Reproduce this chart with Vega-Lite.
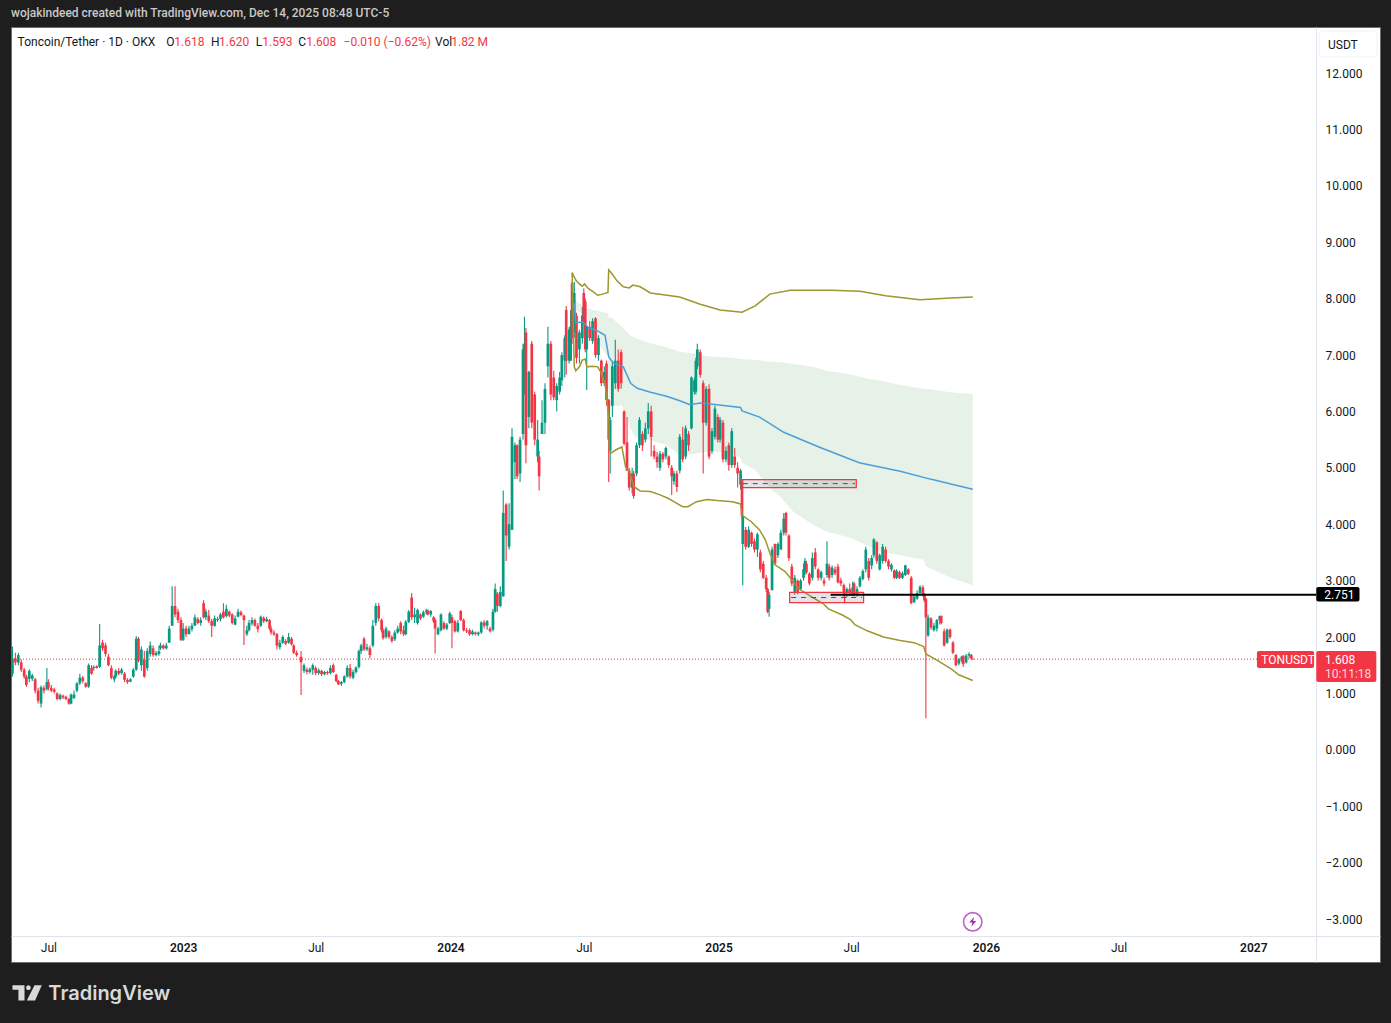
{
"$schema":"https://vega.github.io/schema/vega-lite/v6.json",
"autosize":"none","width":1369,"height":935,
"padding":{"left":11,"top":27,"right":11,"bottom":61},
"background":"#1e1e1e",
"title":{"text":"wojakindeed created with TradingView.com, Dec 14, 2025 08:48 UTC-5","anchor":"start","frame":"group","color":"#c9c9c9","font":"Roboto","fontSize":12,"fontWeight":500,"offset":7},
"config":{"view":{"fill":"#ffffff","stroke":"#6e6e6e"},"text":{"font":"Roboto"}},
"resolve":{"scale":{"color":"independent"}},
"datasets":{
"candles":[
{"t":"2022-05-13","o":1.35,"c":1.62,"h":1.83,"l":1.3},{"t":"2022-05-17","o":1.62,"c":1.55,"h":1.72,"l":1.5},{"t":"2022-05-21","o":1.55,"c":1.68,"h":1.72,"l":1.5},{"t":"2022-05-25","o":1.55,"c":1.42,"h":1.6,"l":1.38},{"t":"2022-05-29","o":1.42,"c":1.3,"h":1.45,"l":1.26},
{"t":"2022-06-01","o":1.3,"c":1.15,"h":1.33,"l":1.12},{"t":"2022-06-05","o":1.26,"c":1.4,"h":1.43,"l":1.2},{"t":"2022-06-09","o":1.26,"c":1.32,"h":1.35,"l":1.22},{"t":"2022-06-13","o":1.25,"c":1.05,"h":1.28,"l":1.0},{"t":"2022-06-17","o":1.05,"c":0.87,"h":1.1,"l":0.82},{"t":"2022-06-21","o":0.82,"c":1.11,"h":1.14,"l":0.75},{"t":"2022-06-25","o":1.1,"c":1.05,"h":1.14,"l":1.0},{"t":"2022-06-29","o":1.08,"c":1.2,"h":1.45,"l":1.05},
{"t":"2022-07-01","o":1.2,"c":1.1,"h":1.25,"l":1.05},{"t":"2022-07-05","o":1.1,"c":1.05,"h":1.15,"l":1.02},{"t":"2022-07-09","o":1.07,"c":1.03,"h":1.1,"l":1.0},{"t":"2022-07-13","o":1.0,"c":0.9,"h":1.02,"l":0.88},{"t":"2022-07-17","o":0.9,"c":0.97,"h":1.0,"l":0.88},{"t":"2022-07-21","o":0.96,"c":0.93,"h":0.98,"l":0.9},{"t":"2022-07-25","o":0.94,"c":0.9,"h":0.96,"l":0.88},{"t":"2022-07-29","o":0.9,"c":0.82,"h":0.92,"l":0.8},
{"t":"2022-08-01","o":0.82,"c":0.98,"h":1.0,"l":0.81},{"t":"2022-08-05","o":0.92,"c":0.98,"h":1.05,"l":0.9},{"t":"2022-08-09","o":1.05,"c":1.18,"h":1.2,"l":1.02},{"t":"2022-08-13","o":1.18,"c":1.28,"h":1.35,"l":1.15},{"t":"2022-08-17","o":1.28,"c":1.22,"h":1.31,"l":1.18},{"t":"2022-08-21","o":1.18,"c":1.12,"h":1.2,"l":1.1},{"t":"2022-08-25","o":1.12,"c":1.5,"h":1.53,"l":1.1},{"t":"2022-08-29","o":1.45,"c":1.35,"h":1.5,"l":1.33},
{"t":"2022-09-01","o":1.45,"c":1.47,"h":1.5,"l":1.4},{"t":"2022-09-05","o":1.48,"c":1.45,"h":1.5,"l":1.44},{"t":"2022-09-09","o":1.47,"c":1.85,"h":2.23,"l":1.45},{"t":"2022-09-13","o":1.9,"c":1.8,"h":1.95,"l":1.75},{"t":"2022-09-17","o":1.85,"c":1.7,"h":1.9,"l":1.65},{"t":"2022-09-21","o":1.65,"c":1.5,"h":1.7,"l":1.48},{"t":"2022-09-25","o":1.45,"c":1.28,"h":1.5,"l":1.25},{"t":"2022-09-29","o":1.25,"c":1.3,"h":1.33,"l":1.2},
{"t":"2022-10-01","o":1.3,"c":1.4,"h":1.43,"l":1.27},{"t":"2022-10-05","o":1.4,"c":1.35,"h":1.45,"l":1.32},{"t":"2022-10-09","o":1.36,"c":1.42,"h":1.45,"l":1.33},{"t":"2022-10-13","o":1.35,"c":1.24,"h":1.38,"l":1.2},{"t":"2022-10-17","o":1.24,"c":1.2,"h":1.27,"l":1.17},{"t":"2022-10-21","o":1.21,"c":1.25,"h":1.27,"l":1.2},{"t":"2022-10-25","o":1.3,"c":1.42,"h":1.45,"l":1.28},{"t":"2022-10-29","o":1.42,"c":1.97,"h":2.02,"l":1.4},
{"t":"2022-11-01","o":1.97,"c":1.58,"h":2.0,"l":1.55},{"t":"2022-11-05","o":1.5,"c":1.78,"h":1.83,"l":1.4},{"t":"2022-11-09","o":1.6,"c":1.3,"h":1.75,"l":1.28},{"t":"2022-11-13","o":1.45,"c":1.75,"h":1.8,"l":1.4},{"t":"2022-11-17","o":1.7,"c":1.85,"h":1.92,"l":1.65},{"t":"2022-11-21","o":1.8,"c":1.68,"h":1.85,"l":1.65},{"t":"2022-11-25","o":1.68,"c":1.72,"h":1.75,"l":1.66},{"t":"2022-11-29","o":1.7,"c":1.75,"h":1.85,"l":1.67},
{"t":"2022-12-01","o":1.8,"c":1.85,"h":1.9,"l":1.77},{"t":"2022-12-05","o":1.85,"c":1.8,"h":1.87,"l":1.78},{"t":"2022-12-09","o":1.8,"c":1.85,"h":1.9,"l":1.78},{"t":"2022-12-13","o":1.9,"c":2.15,"h":2.2,"l":1.9},{"t":"2022-12-17","o":2.2,"c":2.55,"h":2.9,"l":2.2},{"t":"2022-12-21","o":2.55,"c":2.4,"h":2.9,"l":2.35},{"t":"2022-12-25","o":2.45,"c":2.3,"h":2.5,"l":2.25},{"t":"2022-12-29","o":2.3,"c":1.95,"h":2.35,"l":1.93},
{"t":"2023-01-01","o":1.95,"c":2.15,"h":2.25,"l":1.93},{"t":"2023-01-05","o":2.15,"c":2.05,"h":2.2,"l":2.0},{"t":"2023-01-09","o":2.05,"c":2.15,"h":2.2,"l":2.05},{"t":"2023-01-13","o":2.14,"c":2.2,"h":2.25,"l":2.1},{"t":"2023-01-17","o":2.2,"c":2.35,"h":2.4,"l":2.2},{"t":"2023-01-21","o":2.32,"c":2.25,"h":2.35,"l":2.22},{"t":"2023-01-25","o":2.25,"c":2.3,"h":2.35,"l":2.2},{"t":"2023-01-29","o":2.6,"c":2.35,"h":2.65,"l":2.33},
{"t":"2023-02-01","o":2.35,"c":2.45,"h":2.5,"l":2.3},{"t":"2023-02-05","o":2.38,"c":2.28,"h":2.48,"l":2.25},{"t":"2023-02-09","o":2.28,"c":2.2,"h":2.32,"l":2.0},{"t":"2023-02-13","o":2.2,"c":2.33,"h":2.38,"l":2.18},{"t":"2023-02-17","o":2.3,"c":2.32,"h":2.36,"l":2.27},{"t":"2023-02-21","o":2.32,"c":2.4,"h":2.43,"l":2.28},{"t":"2023-02-25","o":2.45,"c":2.35,"h":2.6,"l":2.33},
{"t":"2023-03-01","o":2.37,"c":2.5,"h":2.57,"l":2.35},{"t":"2023-03-05","o":2.45,"c":2.38,"h":2.47,"l":2.35},{"t":"2023-03-09","o":2.4,"c":2.25,"h":2.42,"l":2.22},{"t":"2023-03-13","o":2.22,"c":2.33,"h":2.38,"l":2.21},{"t":"2023-03-17","o":2.36,"c":2.45,"h":2.5,"l":2.35},{"t":"2023-03-21","o":2.44,"c":2.39,"h":2.47,"l":2.37},{"t":"2023-03-25","o":2.38,"c":2.3,"h":2.4,"l":1.86},{"t":"2023-03-29","o":2.05,"c":2.12,"h":2.2,"l":2.02},
{"t":"2023-04-01","o":2.12,"c":2.25,"h":2.3,"l":2.1},{"t":"2023-04-05","o":2.24,"c":2.3,"h":2.35,"l":2.2},{"t":"2023-04-09","o":2.3,"c":2.2,"h":2.33,"l":2.18},{"t":"2023-04-13","o":2.2,"c":2.14,"h":2.25,"l":2.08},{"t":"2023-04-17","o":2.2,"c":2.36,"h":2.38,"l":2.18},{"t":"2023-04-21","o":2.34,"c":2.28,"h":2.37,"l":2.25},{"t":"2023-04-25","o":2.28,"c":2.32,"h":2.36,"l":2.26},{"t":"2023-04-29","o":2.3,"c":2.15,"h":2.32,"l":2.13},
{"t":"2023-05-01","o":2.15,"c":2.08,"h":2.2,"l":2.04},{"t":"2023-05-05","o":2.08,"c":2.05,"h":2.12,"l":2.02},{"t":"2023-05-09","o":2.05,"c":1.85,"h":2.07,"l":1.78},{"t":"2023-05-13","o":1.82,"c":1.9,"h":1.95,"l":1.78},{"t":"2023-05-17","o":1.9,"c":2.0,"h":2.03,"l":1.88},{"t":"2023-05-21","o":1.93,"c":1.88,"h":1.96,"l":1.86},{"t":"2023-05-25","o":1.9,"c":2.0,"h":2.07,"l":1.88},{"t":"2023-05-29","o":1.97,"c":1.87,"h":2.0,"l":1.85},
{"t":"2023-06-01","o":1.85,"c":1.72,"h":1.87,"l":1.7},{"t":"2023-06-05","o":1.72,"c":1.68,"h":1.76,"l":1.65},{"t":"2023-06-11","o":1.65,"c":1.55,"h":1.75,"l":0.97},{"t":"2023-06-15","o":1.4,"c":1.5,"h":1.53,"l":1.36},{"t":"2023-06-19","o":1.42,"c":1.38,"h":1.46,"l":1.34},{"t":"2023-06-23","o":1.38,"c":1.43,"h":1.46,"l":1.35},{"t":"2023-06-27","o":1.42,"c":1.5,"h":1.53,"l":1.33},
{"t":"2023-07-01","o":1.45,"c":1.36,"h":1.48,"l":1.32},{"t":"2023-07-05","o":1.36,"c":1.41,"h":1.44,"l":1.33},{"t":"2023-07-09","o":1.4,"c":1.34,"h":1.42,"l":1.31},{"t":"2023-07-13","o":1.34,"c":1.38,"h":1.4,"l":1.32},{"t":"2023-07-17","o":1.38,"c":1.36,"h":1.4,"l":1.33},{"t":"2023-07-21","o":1.36,"c":1.45,"h":1.5,"l":1.34},{"t":"2023-07-25","o":1.5,"c":1.38,"h":1.53,"l":1.36},{"t":"2023-07-29","o":1.33,"c":1.22,"h":1.35,"l":1.2},
{"t":"2023-08-01","o":1.22,"c":1.16,"h":1.24,"l":1.15},{"t":"2023-08-05","o":1.17,"c":1.2,"h":1.22,"l":1.13},{"t":"2023-08-09","o":1.2,"c":1.3,"h":1.32,"l":1.18},{"t":"2023-08-13","o":1.3,"c":1.45,"h":1.5,"l":1.28},{"t":"2023-08-17","o":1.45,"c":1.3,"h":1.52,"l":1.26},{"t":"2023-08-21","o":1.28,"c":1.38,"h":1.42,"l":1.25},{"t":"2023-08-25","o":1.38,"c":1.46,"h":1.48,"l":1.35},{"t":"2023-08-29","o":1.47,"c":1.75,"h":1.78,"l":1.44},
{"t":"2023-09-01","o":1.75,"c":1.85,"h":1.88,"l":1.7},{"t":"2023-09-05","o":1.97,"c":1.78,"h":2.0,"l":1.75},{"t":"2023-09-09","o":1.78,"c":1.82,"h":1.88,"l":1.75},{"t":"2023-09-13","o":1.8,"c":1.68,"h":1.85,"l":1.62},{"t":"2023-09-17","o":1.85,"c":2.2,"h":2.3,"l":1.82},{"t":"2023-09-21","o":2.25,"c":2.55,"h":2.6,"l":2.2},{"t":"2023-09-25","o":2.55,"c":2.33,"h":2.6,"l":2.28},{"t":"2023-09-29","o":2.3,"c":2.12,"h":2.33,"l":2.08},
{"t":"2023-10-01","o":2.12,"c":1.98,"h":2.15,"l":1.95},{"t":"2023-10-05","o":2.0,"c":2.15,"h":2.18,"l":1.97},{"t":"2023-10-09","o":2.1,"c":2.0,"h":2.12,"l":1.97},{"t":"2023-10-13","o":2.0,"c":1.93,"h":2.03,"l":1.9},{"t":"2023-10-17","o":1.96,"c":2.08,"h":2.12,"l":1.93},{"t":"2023-10-21","o":2.08,"c":2.15,"h":2.2,"l":2.06},{"t":"2023-10-25","o":2.25,"c":2.1,"h":2.28,"l":2.05},{"t":"2023-10-29","o":2.12,"c":2.05,"h":2.2,"l":2.02},
{"t":"2023-11-01","o":2.05,"c":2.27,"h":2.3,"l":2.03},{"t":"2023-11-05","o":2.27,"c":2.45,"h":2.48,"l":2.25},{"t":"2023-11-09","o":2.7,"c":2.35,"h":2.78,"l":2.3},{"t":"2023-11-13","o":2.35,"c":2.4,"h":2.52,"l":2.25},{"t":"2023-11-17","o":2.25,"c":2.48,"h":2.5,"l":2.22},{"t":"2023-11-21","o":2.4,"c":2.33,"h":2.42,"l":2.3},{"t":"2023-11-25","o":2.36,"c":2.44,"h":2.47,"l":2.34},{"t":"2023-11-29","o":2.44,"c":2.47,"h":2.5,"l":2.4},
{"t":"2023-12-01","o":2.47,"c":2.4,"h":2.49,"l":2.38},{"t":"2023-12-05","o":2.4,"c":2.46,"h":2.48,"l":2.36},{"t":"2023-12-09","o":2.35,"c":2.28,"h":2.37,"l":2.25},{"t":"2023-12-11","o":2.3,"c":2.15,"h":2.33,"l":1.71},{"t":"2023-12-15","o":2.05,"c":2.15,"h":2.18,"l":2.03},{"t":"2023-12-19","o":2.12,"c":2.4,"h":2.42,"l":2.1},{"t":"2023-12-23","o":2.25,"c":2.15,"h":2.28,"l":2.13},{"t":"2023-12-27","o":2.15,"c":2.22,"h":2.25,"l":2.12},{"t":"2023-12-31","o":2.25,"c":2.42,"h":2.45,"l":2.23},
{"t":"2024-01-03","o":2.35,"c":2.25,"h":2.4,"l":1.8},{"t":"2024-01-07","o":2.28,"c":2.1,"h":2.3,"l":2.08},{"t":"2024-01-11","o":2.1,"c":2.25,"h":2.3,"l":2.08},{"t":"2024-01-15","o":2.46,"c":2.3,"h":2.48,"l":2.28},{"t":"2024-01-19","o":2.3,"c":2.12,"h":2.33,"l":2.1},{"t":"2024-01-23","o":2.12,"c":2.1,"h":2.16,"l":2.07},{"t":"2024-01-27","o":2.12,"c":2.05,"h":2.15,"l":2.02},{"t":"2024-01-31","o":2.05,"c":2.1,"h":2.13,"l":2.03},
{"t":"2024-02-04","o":2.08,"c":2.05,"h":2.1,"l":2.03},{"t":"2024-02-08","o":2.05,"c":2.08,"h":2.1,"l":2.02},{"t":"2024-02-12","o":2.08,"c":2.26,"h":2.28,"l":2.06},{"t":"2024-02-16","o":2.26,"c":2.2,"h":2.3,"l":2.15},{"t":"2024-02-20","o":2.2,"c":2.28,"h":2.3,"l":2.13},{"t":"2024-02-24","o":2.15,"c":2.1,"h":2.18,"l":2.08},{"t":"2024-02-28","o":2.13,"c":2.45,"h":2.5,"l":2.1},
{"t":"2024-03-02","o":2.45,"c":2.85,"h":2.95,"l":2.43},{"t":"2024-03-05","o":2.77,"c":2.55,"h":2.8,"l":2.45},{"t":"2024-03-09","o":2.55,"c":2.8,"h":2.9,"l":2.53},{"t":"2024-03-13","o":2.72,"c":4.2,"h":4.6,"l":2.72},{"t":"2024-03-17","o":4.35,"c":3.8,"h":4.37,"l":3.35},{"t":"2024-03-21","o":3.6,"c":4.0,"h":4.37,"l":3.55},{"t":"2024-03-25","o":3.9,"c":5.55,"h":5.7,"l":3.9},{"t":"2024-03-29","o":5.1,"c":5.4,"h":5.45,"l":4.8},
{"t":"2024-04-01","o":5.4,"c":4.85,"h":5.42,"l":4.8},{"t":"2024-04-05","o":4.9,"c":5.5,"h":5.55,"l":4.75},{"t":"2024-04-09","o":5.6,"c":7.1,"h":7.2,"l":5.5},{"t":"2024-04-11","o":6.5,"c":7.2,"h":7.68,"l":6.3},{"t":"2024-04-13","o":7.4,"c":5.4,"h":7.48,"l":5.08},{"t":"2024-04-17","o":5.9,"c":6.7,"h":6.72,"l":5.7},{"t":"2024-04-21","o":7.2,"c":5.8,"h":7.25,"l":5.7},{"t":"2024-04-25","o":6.3,"c":5.5,"h":6.35,"l":5.4},{"t":"2024-04-29","o":5.2,"c":5.5,"h":5.85,"l":5.1},
{"t":"2024-05-01","o":5.2,"c":4.85,"h":5.3,"l":4.6},{"t":"2024-05-05","o":5.6,"c":5.8,"h":6.2,"l":5.6},{"t":"2024-05-09","o":5.8,"c":6.4,"h":6.5,"l":5.6},{"t":"2024-05-13","o":6.8,"c":7.2,"h":7.5,"l":6.6},{"t":"2024-05-17","o":7.2,"c":6.3,"h":7.25,"l":6.2},{"t":"2024-05-21","o":6.6,"c":6.25,"h":6.72,"l":6.2},{"t":"2024-05-25","o":6.2,"c":6.45,"h":6.5,"l":6.0},{"t":"2024-05-29","o":6.35,"c":6.6,"h":6.7,"l":6.3},
{"t":"2024-06-01","o":6.55,"c":7.0,"h":7.05,"l":6.45},{"t":"2024-06-05","o":6.9,"c":7.3,"h":7.35,"l":6.6},{"t":"2024-06-07","o":7.8,"c":6.9,"h":7.87,"l":6.65},{"t":"2024-06-11","o":6.9,"c":7.45,"h":7.5,"l":6.85},{"t":"2024-06-13","o":6.9,"c":7.5,"h":7.8,"l":6.9},{"t":"2024-06-15","o":8.27,"c":7.3,"h":8.3,"l":7.2},{"t":"2024-06-18","o":7.4,"c":8.1,"h":8.3,"l":7.3},{"t":"2024-06-21","o":7.7,"c":6.95,"h":7.75,"l":6.85},{"t":"2024-06-25","o":7.1,"c":7.4,"h":7.45,"l":6.85},{"t":"2024-06-29","o":7.3,"c":7.7,"h":7.85,"l":7.2},
{"t":"2024-07-01","o":8.1,"c":7.6,"h":8.18,"l":7.55},{"t":"2024-07-03","o":7.95,"c":7.1,"h":8.0,"l":7.05},{"t":"2024-07-05","o":7.1,"c":7.5,"h":7.52,"l":6.38},{"t":"2024-07-09","o":7.5,"c":7.3,"h":7.6,"l":7.25},{"t":"2024-07-13","o":7.25,"c":7.6,"h":7.65,"l":7.2},{"t":"2024-07-17","o":7.65,"c":7.0,"h":7.67,"l":6.95},{"t":"2024-07-21","o":7.0,"c":7.3,"h":7.35,"l":6.9},{"t":"2024-07-25","o":6.9,"c":6.5,"h":6.92,"l":6.45},{"t":"2024-07-29","o":6.5,"c":6.7,"h":6.8,"l":6.45},
{"t":"2024-08-01","o":6.85,"c":6.2,"h":6.9,"l":6.1},{"t":"2024-08-04","o":6.2,"c":5.5,"h":6.22,"l":4.75},{"t":"2024-08-06","o":5.3,"c":5.85,"h":5.9,"l":4.9},{"t":"2024-08-09","o":6.1,"c":6.8,"h":6.9,"l":5.9},{"t":"2024-08-13","o":6.5,"c":6.9,"h":7.27,"l":6.4},{"t":"2024-08-17","o":6.9,"c":6.4,"h":7.1,"l":6.35},{"t":"2024-08-21","o":7.05,"c":6.5,"h":7.1,"l":6.4},{"t":"2024-08-25","o":6.0,"c":5.43,"h":6.02,"l":5.4},{"t":"2024-08-29","o":5.45,"c":4.95,"h":5.9,"l":4.95},
{"t":"2024-09-01","o":4.95,"c":4.65,"h":5.0,"l":4.6},{"t":"2024-09-05","o":4.65,"c":4.9,"h":5.0,"l":4.55},{"t":"2024-09-07","o":4.9,"c":4.5,"h":4.95,"l":4.45},{"t":"2024-09-11","o":4.9,"c":5.4,"h":5.45,"l":4.85},{"t":"2024-09-15","o":5.4,"c":5.85,"h":5.9,"l":5.35},{"t":"2024-09-19","o":5.6,"c":5.4,"h":5.65,"l":5.3},{"t":"2024-09-23","o":5.5,"c":5.7,"h":5.8,"l":5.45},{"t":"2024-09-27","o":5.7,"c":6.0,"h":6.15,"l":5.6},
{"t":"2024-10-01","o":6.0,"c":5.55,"h":6.1,"l":5.2},{"t":"2024-10-05","o":5.3,"c":5.2,"h":5.4,"l":5.15},{"t":"2024-10-09","o":5.2,"c":5.1,"h":5.28,"l":5.0},{"t":"2024-10-13","o":5.0,"c":5.25,"h":5.3,"l":4.95},{"t":"2024-10-17","o":5.25,"c":5.15,"h":5.28,"l":5.1},{"t":"2024-10-21","o":5.2,"c":5.35,"h":5.38,"l":5.15},{"t":"2024-10-25","o":5.2,"c":5.05,"h":5.22,"l":5.0},{"t":"2024-10-29","o":5.0,"c":4.85,"h":5.05,"l":4.52},
{"t":"2024-11-01","o":4.76,"c":4.9,"h":4.95,"l":4.7},{"t":"2024-11-05","o":4.9,"c":4.66,"h":4.95,"l":4.57},{"t":"2024-11-09","o":4.95,"c":5.55,"h":5.6,"l":4.9},{"t":"2024-11-13","o":5.5,"c":5.15,"h":5.73,"l":5.1},{"t":"2024-11-17","o":5.2,"c":5.7,"h":5.75,"l":5.15},{"t":"2024-11-21","o":5.6,"c":5.4,"h":5.65,"l":5.3},{"t":"2024-11-25","o":5.7,"c":6.6,"h":6.62,"l":5.68},{"t":"2024-11-29","o":6.35,"c":6.55,"h":6.6,"l":6.3},
{"t":"2024-12-01","o":6.35,"c":6.9,"h":6.95,"l":6.3},{"t":"2024-12-03","o":6.8,"c":7.1,"h":7.2,"l":6.75},{"t":"2024-12-07","o":7.05,"c":6.65,"h":7.1,"l":6.6},{"t":"2024-12-11","o":6.5,"c":5.8,"h":6.55,"l":4.9},{"t":"2024-12-15","o":5.8,"c":6.4,"h":6.45,"l":5.75},{"t":"2024-12-19","o":6.4,"c":5.2,"h":6.48,"l":5.15},{"t":"2024-12-23","o":5.3,"c":5.65,"h":5.7,"l":5.25},{"t":"2024-12-27","o":5.55,"c":6.05,"h":6.1,"l":5.5},{"t":"2024-12-31","o":5.9,"c":5.5,"h":5.95,"l":5.45},
{"t":"2025-01-03","o":5.5,"c":5.85,"h":5.9,"l":5.45},{"t":"2025-01-07","o":5.8,"c":5.15,"h":5.85,"l":5.1},{"t":"2025-01-11","o":5.15,"c":5.3,"h":5.38,"l":5.1},{"t":"2025-01-15","o":5.4,"c":5.05,"h":5.45,"l":4.95},{"t":"2025-01-19","o":5.05,"c":5.65,"h":5.7,"l":5.0},{"t":"2025-01-23","o":5.2,"c":5.05,"h":5.35,"l":5.0},{"t":"2025-01-27","o":5.0,"c":4.9,"h":5.1,"l":4.65},{"t":"2025-01-31","o":4.7,"c":4.95,"h":4.98,"l":4.62},
{"t":"2025-02-02","o":4.78,"c":4.15,"h":4.8,"l":4.1},{"t":"2025-02-03","o":3.65,"c":4.15,"h":4.15,"l":2.92},{"t":"2025-02-07","o":3.9,"c":3.6,"h":3.95,"l":3.55},{"t":"2025-02-11","o":3.6,"c":3.9,"h":3.96,"l":3.58},{"t":"2025-02-15","o":3.85,"c":3.65,"h":3.87,"l":3.6},{"t":"2025-02-19","o":3.7,"c":3.55,"h":3.75,"l":3.5},{"t":"2025-02-23","o":3.55,"c":3.82,"h":3.85,"l":3.42},{"t":"2025-02-27","o":3.5,"c":3.2,"h":3.55,"l":3.15},
{"t":"2025-03-03","o":3.3,"c":3.05,"h":3.35,"l":3.03},{"t":"2025-03-07","o":3.05,"c":2.85,"h":3.1,"l":2.8},{"t":"2025-03-09","o":2.85,"c":2.45,"h":2.87,"l":2.42},{"t":"2025-03-11","o":2.5,"c":2.75,"h":2.8,"l":2.36},{"t":"2025-03-15","o":2.83,"c":3.55,"h":3.6,"l":2.83},{"t":"2025-03-19","o":3.65,"c":3.3,"h":3.66,"l":3.28},{"t":"2025-03-23","o":3.45,"c":3.65,"h":3.68,"l":3.4},{"t":"2025-03-27","o":3.55,"c":3.85,"h":3.9,"l":3.55},{"t":"2025-03-31","o":3.85,"c":4.1,"h":4.2,"l":3.8},
{"t":"2025-04-03","o":4.2,"c":3.85,"h":4.22,"l":3.8},{"t":"2025-04-07","o":3.8,"c":3.4,"h":3.82,"l":3.35},{"t":"2025-04-11","o":3.25,"c":2.95,"h":3.3,"l":2.9},{"t":"2025-04-15","o":2.8,"c":3.05,"h":3.1,"l":2.75},{"t":"2025-04-19","o":3.0,"c":2.8,"h":3.02,"l":2.76},{"t":"2025-04-23","o":2.85,"c":3.0,"h":3.03,"l":2.83},{"t":"2025-04-27","o":3.05,"c":3.2,"h":3.3,"l":3.0},{"t":"2025-04-29","o":3.15,"c":3.35,"h":3.4,"l":3.1},
{"t":"2025-05-01","o":3.3,"c":3.15,"h":3.35,"l":3.12},{"t":"2025-05-05","o":3.12,"c":2.95,"h":3.15,"l":2.92},{"t":"2025-05-09","o":3.05,"c":3.4,"h":3.5,"l":3.0},{"t":"2025-05-13","o":3.5,"c":3.25,"h":3.58,"l":3.2},{"t":"2025-05-17","o":3.2,"c":3.05,"h":3.22,"l":3.0},{"t":"2025-05-21","o":3.05,"c":3.15,"h":3.18,"l":3.0},{"t":"2025-05-25","o":3.0,"c":2.95,"h":3.05,"l":2.9},{"t":"2025-05-29","o":3.1,"c":3.3,"h":3.7,"l":3.05},
{"t":"2025-06-01","o":3.25,"c":3.05,"h":3.3,"l":3.0},{"t":"2025-06-05","o":3.1,"c":3.23,"h":3.27,"l":3.05},{"t":"2025-06-09","o":3.2,"c":3.13,"h":3.25,"l":3.1},{"t":"2025-06-13","o":3.25,"c":2.97,"h":3.3,"l":2.95},{"t":"2025-06-17","o":3.0,"c":2.95,"h":3.05,"l":2.9},{"t":"2025-06-21","o":2.92,"c":2.78,"h":2.95,"l":2.72},{"t":"2025-06-25","o":2.78,"c":2.85,"h":2.88,"l":2.7},{"t":"2025-06-29","o":2.85,"c":2.78,"h":2.95,"l":2.73},
{"t":"2025-07-03","o":2.75,"c":2.88,"h":2.98,"l":2.73},{"t":"2025-07-05","o":2.95,"c":2.75,"h":2.98,"l":2.72},{"t":"2025-07-09","o":2.75,"c":2.85,"h":2.9,"l":2.72},{"t":"2025-07-13","o":2.9,"c":3.05,"h":3.08,"l":2.88},{"t":"2025-07-17","o":3.03,"c":3.17,"h":3.2,"l":3.0},{"t":"2025-07-21","o":3.2,"c":3.55,"h":3.6,"l":3.15},{"t":"2025-07-25","o":3.35,"c":3.05,"h":3.4,"l":3.0},{"t":"2025-07-29","o":3.27,"c":3.4,"h":3.45,"l":3.2},
{"t":"2025-08-01","o":3.45,"c":3.73,"h":3.75,"l":3.4},{"t":"2025-08-05","o":3.68,"c":3.35,"h":3.7,"l":3.3},{"t":"2025-08-09","o":3.2,"c":3.45,"h":3.48,"l":3.18},{"t":"2025-08-13","o":3.35,"c":3.6,"h":3.65,"l":3.3},{"t":"2025-08-17","o":3.55,"c":3.35,"h":3.6,"l":3.32},{"t":"2025-08-21","o":3.35,"c":3.25,"h":3.38,"l":3.2},{"t":"2025-08-25","o":3.2,"c":3.28,"h":3.31,"l":3.16},{"t":"2025-08-29","o":3.18,"c":3.05,"h":3.2,"l":3.03},
{"t":"2025-09-01","o":3.05,"c":3.17,"h":3.2,"l":3.03},{"t":"2025-09-05","o":3.15,"c":3.05,"h":3.18,"l":3.03},{"t":"2025-09-09","o":3.05,"c":3.13,"h":3.16,"l":3.03},{"t":"2025-09-13","o":3.1,"c":3.27,"h":3.28,"l":3.08},{"t":"2025-09-17","o":3.2,"c":3.12,"h":3.22,"l":3.1},{"t":"2025-09-21","o":3.05,"c":2.6,"h":3.08,"l":2.58},{"t":"2025-09-25","o":2.62,"c":2.72,"h":2.75,"l":2.6},{"t":"2025-09-29","o":2.68,"c":2.78,"h":2.83,"l":2.66},
{"t":"2025-10-03","o":2.78,"c":2.89,"h":2.92,"l":2.76},{"t":"2025-10-07","o":2.88,"c":2.75,"h":2.92,"l":2.72},{"t":"2025-10-09","o":2.75,"c":2.65,"h":2.78,"l":2.62},{"t":"2025-10-11","o":2.68,"c":2.35,"h":2.7,"l":0.56},{"t":"2025-10-14","o":2.03,"c":2.35,"h":2.4,"l":2.0},{"t":"2025-10-18","o":2.33,"c":2.17,"h":2.35,"l":2.13},{"t":"2025-10-22","o":2.12,"c":2.2,"h":2.25,"l":2.1},{"t":"2025-10-26","o":2.15,"c":2.3,"h":2.32,"l":2.1},{"t":"2025-10-30","o":2.3,"c":2.37,"h":2.38,"l":2.22},
{"t":"2025-11-01","o":2.37,"c":2.25,"h":2.38,"l":2.22},{"t":"2025-11-05","o":2.1,"c":1.85,"h":2.15,"l":1.83},{"t":"2025-11-09","o":1.9,"c":2.13,"h":2.15,"l":1.88},{"t":"2025-11-13","o":2.13,"c":2.0,"h":2.15,"l":1.97},{"t":"2025-11-17","o":1.9,"c":1.72,"h":1.93,"l":1.7},{"t":"2025-11-21","o":1.68,"c":1.5,"h":1.7,"l":1.48},{"t":"2025-11-25","o":1.53,"c":1.6,"h":1.63,"l":1.5},{"t":"2025-11-29","o":1.58,"c":1.65,"h":1.67,"l":1.55},
{"t":"2025-12-01","o":1.66,"c":1.52,"h":1.68,"l":1.47},{"t":"2025-12-05","o":1.55,"c":1.67,"h":1.7,"l":1.53},{"t":"2025-12-09","o":1.67,"c":1.7,"h":1.73,"l":1.62},{"t":"2025-12-12","o":1.68,"c":1.62,"h":1.7,"l":1.6},{"t":"2025-12-14","o":1.618,"c":1.608,"h":1.62,"l":1.593}
],
"band":[
{"t":"2024-06-15","hi":8.03,"lo":8.03},{"t":"2024-06-18","hi":7.98,"lo":7.8},{"t":"2024-07-05","hi":7.83,"lo":7.71},{"t":"2024-07-20","hi":7.78,"lo":7.21},{"t":"2024-08-03","hi":7.74,"lo":6.97},{"t":"2024-08-04","hi":7.67,"lo":6.1},{"t":"2024-08-08","hi":7.66,"lo":6.08},{"t":"2024-08-22","hi":7.5,"lo":6.11},{"t":"2024-08-27","hi":7.44,"lo":5.94},{"t":"2024-09-02","hi":7.35,"lo":5.71},{"t":"2024-09-09","hi":7.3,"lo":5.55},{"t":"2024-09-30","hi":7.21,"lo":5.49},{"t":"2024-10-22","hi":7.14,"lo":5.4},{"t":"2024-11-09","hi":7.06,"lo":5.23},{"t":"2024-11-27","hi":7.03,"lo":5.24},{"t":"2024-12-16","hi":6.98,"lo":5.29},{"t":"2025-01-20","hi":6.95,"lo":5.26},{"t":"2025-01-31","hi":6.93,"lo":5.17},{"t":"2025-02-02","hi":6.93,"lo":5.09},{"t":"2025-02-20","hi":6.91,"lo":4.96},{"t":"2025-03-12","hi":6.88,"lo":4.64},{"t":"2025-03-26","hi":6.87,"lo":4.49},{"t":"2025-04-13","hi":6.84,"lo":4.22},{"t":"2025-05-10","hi":6.79,"lo":3.99},{"t":"2025-05-28","hi":6.72,"lo":3.87},{"t":"2025-06-30","hi":6.66,"lo":3.76},{"t":"2025-07-27","hi":6.57,"lo":3.6},{"t":"2025-08-04","hi":6.56,"lo":3.54},{"t":"2025-09-06","hi":6.47,"lo":3.45},{"t":"2025-10-08","hi":6.4,"lo":3.37},{"t":"2025-10-11","hi":6.4,"lo":3.25},{"t":"2025-11-14","hi":6.34,"lo":3.05},{"t":"2025-12-14","hi":6.31,"lo":2.92}
],
"lines":[
{"s":"upper","t":"2024-06-15","p":8.46},{"s":"upper","t":"2024-06-20","p":8.33},{"s":"upper","t":"2024-06-25","p":8.26},{"s":"upper","t":"2024-06-29","p":8.22},{"s":"upper","t":"2024-07-02","p":8.26},{"s":"upper","t":"2024-07-07","p":8.18},{"s":"upper","t":"2024-07-14","p":8.12},{"s":"upper","t":"2024-07-20","p":8.06},{"s":"upper","t":"2024-07-27","p":8.08},{"s":"upper","t":"2024-08-03","p":8.11},{"s":"upper","t":"2024-08-04","p":8.51},{"s":"upper","t":"2024-08-08","p":8.45},{"s":"upper","t":"2024-08-15","p":8.32},{"s":"upper","t":"2024-08-24","p":8.21},{"s":"upper","t":"2024-09-01","p":8.19},{"s":"upper","t":"2024-09-06","p":8.24},{"s":"upper","t":"2024-09-16","p":8.21},{"s":"upper","t":"2024-09-30","p":8.1},{"s":"upper","t":"2024-11-09","p":8.03},{"s":"upper","t":"2024-12-07","p":7.9},{"s":"upper","t":"2025-01-03","p":7.8},{"s":"upper","t":"2025-02-02","p":7.76},{"s":"upper","t":"2025-02-20","p":7.87},{"s":"upper","t":"2025-03-12","p":8.08},{"s":"upper","t":"2025-04-09","p":8.15},{"s":"upper","t":"2025-06-04","p":8.15},{"s":"upper","t":"2025-07-13","p":8.13},{"s":"upper","t":"2025-08-17","p":8.05},{"s":"upper","t":"2025-10-03","p":7.98},{"s":"upper","t":"2025-11-14","p":8.01},{"s":"upper","t":"2025-12-14","p":8.03},
{"s":"lower","t":"2024-06-15","p":8.46},{"s":"lower","t":"2024-06-18","p":6.79},{"s":"lower","t":"2024-06-20","p":6.72},{"s":"lower","t":"2024-06-25","p":6.79},{"s":"lower","t":"2024-06-29","p":6.91},{"s":"lower","t":"2024-07-03","p":6.93},{"s":"lower","t":"2024-07-05","p":6.79},{"s":"lower","t":"2024-07-13","p":6.8},{"s":"lower","t":"2024-07-20","p":6.79},{"s":"lower","t":"2024-07-24","p":6.7},{"s":"lower","t":"2024-07-30","p":6.5},{"s":"lower","t":"2024-08-04","p":5.94},{"s":"lower","t":"2024-08-05","p":5.32},{"s":"lower","t":"2024-08-07","p":5.26},{"s":"lower","t":"2024-08-14","p":5.32},{"s":"lower","t":"2024-08-22","p":5.37},{"s":"lower","t":"2024-08-27","p":5.02},{"s":"lower","t":"2024-09-02","p":4.91},{"s":"lower","t":"2024-09-07","p":4.67},{"s":"lower","t":"2024-09-16","p":4.59},{"s":"lower","t":"2024-09-30","p":4.58},{"s":"lower","t":"2024-10-13","p":4.52},{"s":"lower","t":"2024-10-24","p":4.46},{"s":"lower","t":"2024-11-05","p":4.37},{"s":"lower","t":"2024-11-13","p":4.31},{"s":"lower","t":"2024-11-20","p":4.31},{"s":"lower","t":"2024-12-02","p":4.4},{"s":"lower","t":"2024-12-16","p":4.44},{"s":"lower","t":"2024-12-30","p":4.42},{"s":"lower","t":"2025-01-20","p":4.4},{"s":"lower","t":"2025-01-31","p":4.36},{"s":"lower","t":"2025-02-02","p":4.16},{"s":"lower","t":"2025-02-15","p":4.04},{"s":"lower","t":"2025-02-26","p":3.9},{"s":"lower","t":"2025-03-06","p":3.72},{"s":"lower","t":"2025-03-12","p":3.49},{"s":"lower","t":"2025-03-19","p":3.28},{"s":"lower","t":"2025-04-02","p":3.16},{"s":"lower","t":"2025-04-20","p":2.86},{"s":"lower","t":"2025-05-08","p":2.71},{"s":"lower","t":"2025-05-24","p":2.59},{"s":"lower","t":"2025-05-31","p":2.5},{"s":"lower","t":"2025-06-19","p":2.39},{"s":"lower","t":"2025-06-30","p":2.31},{"s":"lower","t":"2025-07-06","p":2.22},{"s":"lower","t":"2025-07-23","p":2.11},{"s":"lower","t":"2025-08-14","p":2.0},{"s":"lower","t":"2025-09-06","p":1.94},{"s":"lower","t":"2025-09-25","p":1.9},{"s":"lower","t":"2025-10-08","p":1.83},{"s":"lower","t":"2025-10-11","p":1.7},{"s":"lower","t":"2025-10-26","p":1.59},{"s":"lower","t":"2025-11-14","p":1.44},{"s":"lower","t":"2025-11-25","p":1.33},{"s":"lower","t":"2025-12-14","p":1.23},
{"s":"basis","t":"2024-06-18","p":7.92},{"s":"basis","t":"2024-06-20","p":7.57},{"s":"basis","t":"2024-06-29","p":7.59},{"s":"basis","t":"2024-07-08","p":7.48},{"s":"basis","t":"2024-07-18","p":7.44},{"s":"basis","t":"2024-07-30","p":7.35},{"s":"basis","t":"2024-08-04","p":6.97},{"s":"basis","t":"2024-08-10","p":6.86},{"s":"basis","t":"2024-08-24","p":6.79},{"s":"basis","t":"2024-09-03","p":6.5},{"s":"basis","t":"2024-09-12","p":6.41},{"s":"basis","t":"2024-09-30","p":6.34},{"s":"basis","t":"2024-10-22","p":6.27},{"s":"basis","t":"2024-11-09","p":6.19},{"s":"basis","t":"2024-11-23","p":6.12},{"s":"basis","t":"2024-12-07","p":6.15},{"s":"basis","t":"2024-12-30","p":6.12},{"s":"basis","t":"2025-01-31","p":6.07},{"s":"basis","t":"2025-02-02","p":6.01},{"s":"basis","t":"2025-02-26","p":5.9},{"s":"basis","t":"2025-03-31","p":5.63},{"s":"basis","t":"2025-05-18","p":5.37},{"s":"basis","t":"2025-07-12","p":5.09},{"s":"basis","t":"2025-09-06","p":4.94},{"s":"basis","t":"2025-10-17","p":4.8},{"s":"basis","t":"2025-12-14","p":4.62}
],
"zones":[
{"t":"2025-02-01","t2":"2025-07-08","p":4.79,"p2":4.65},
{"t":"2025-04-08","t2":"2025-06-22","p":2.79,"p2":2.61},
{"t":"2025-06-22","t2":"2025-07-18","p":2.79,"p2":2.61}
],
"levels":[
{"kind":"last","t":"2022-05-11","t2":"2027-01-06","p":1.608},
{"kind":"mark","t":"2025-06-03","t2":"2027-03-28","p":2.751},
{"kind":"mid","t":"2025-02-03","t2":"2025-07-06","p":4.72},
{"kind":"mid","t":"2025-04-10","t2":"2025-07-16","p":2.7}
],
"tags":[
{"kind":"mark","t":"2027-03-28","t2":"2027-05-26","p":2.886,"p2":2.63},
{"kind":"price","t":"2027-03-28","t2":"2027-06-18","p":1.752,"p2":1.202},
{"kind":"symbol","t":"2027-01-06","t2":"2027-03-25","p":1.752,"p2":1.45}
],
"notes":[
{"t":"2022-05-20","p":12.558,"label":"Toncoin/Tether · 1D · OKX","tone":"ink"},
{"t":"2022-12-09","p":12.558,"label":"O","tone":"ink"},{"t":"2022-12-20","p":12.558,"label":"1.618","tone":"down"},
{"t":"2023-02-08","p":12.558,"label":"H","tone":"ink"},{"t":"2023-02-19","p":12.558,"label":"1.620","tone":"down"},
{"t":"2023-04-10","p":12.558,"label":"L","tone":"ink"},{"t":"2023-04-19","p":12.558,"label":"1.593","tone":"down"},
{"t":"2023-06-07","p":12.558,"label":"C","tone":"ink"},{"t":"2023-06-18","p":12.558,"label":"1.608","tone":"down"},
{"t":"2023-08-08","p":12.558,"label":"−0.010 (−0.62%)","tone":"down"},
{"t":"2023-12-11","p":12.558,"label":"Vol","tone":"ink"},{"t":"2024-01-02","p":12.558,"label":"1.82 M","tone":"down"},
{"t":"2027-04-13","p":12.505,"label":"USDT","tone":"ink"},
{"t":"2027-01-12","p":1.592,"label":"TONUSDT","tone":"white"},
{"t":"2027-04-09","p":1.592,"label":"1.608","tone":"white"},
{"t":"2027-04-09","p":1.344,"label":"10:11:18","tone":"pale"},
{"t":"2027-04-08","p":2.753,"label":"2.751","tone":"white"}
]
},
"encoding":{
"x":{"field":"t","type":"temporal","title":null,
"scale":{"type":"utc","nice":false,"domain":[{"year":2022,"month":5,"date":11,"utc":true},{"year":2027,"month":6,"date":23,"utc":true}]},
"axis":{"orient":"bottom","offset":-26,"grid":false,"ticks":false,"domainColor":"#e0e3eb","labelFont":"Roboto","labelFontSize":12,"labelColor":"#131722","labelPadding":6,"labelOverlap":false,"labelFlush":false,"labelBound":false,
"values":[{"year":2022,"month":7,"date":1,"utc":true},{"year":2023,"month":1,"date":1,"utc":true},{"year":2023,"month":7,"date":1,"utc":true},{"year":2024,"month":1,"date":1,"utc":true},{"year":2024,"month":7,"date":1,"utc":true},{"year":2025,"month":1,"date":1,"utc":true},{"year":2025,"month":7,"date":1,"utc":true},{"year":2026,"month":1,"date":1,"utc":true},{"year":2026,"month":7,"date":1,"utc":true},{"year":2027,"month":1,"date":1,"utc":true}],
"labelExpr":"utcmonth(datum.value)==0 ? utcFormat(datum.value,'%Y') : 'Jul'",
"labelFontWeight":{"condition":{"test":"utcmonth(datum.value)==0","value":600},"value":400}}},
"y":{"field":"p","type":"quantitative","title":null,
"scale":{"nice":false,"zero":false,"domain":[-3.762,12.816]},
"axis":{"orient":"right","offset":-64,"grid":false,"ticks":false,"domainColor":"#e0e3eb","labelFont":"Roboto","labelFontSize":12,"labelColor":"#131722","labelPadding":9,"labelOverlap":false,"labelBound":false,"format":".3f","values":[-3,-2,-1,0,1,2,3,4,5,6,7,8,9,10,11,12]}}
},
"layer":[
{"data":{"name":"band"},"mark":{"type":"area","color":"#e6f2e8"},"encoding":{"y":{"field":"hi","type":"quantitative","title":null},"y2":{"field":"lo"}}},
{"data":{"name":"candles"},"mark":{"type":"rule","strokeWidth":1.1},"encoding":{"y":{"field":"l","type":"quantitative","title":null},"y2":{"field":"h"},"color":{"condition":{"test":"datum.c>=datum.o","value":"#089981"},"value":"#f23645"}}},
{"data":{"name":"candles"},"mark":{"type":"rule","strokeWidth":2.7},"encoding":{"y":{"field":"o","type":"quantitative","title":null},"y2":{"field":"c"},"color":{"condition":{"test":"datum.c>=datum.o","value":"#089981"},"value":"#f23645"}}},
{"data":{"name":"lines"},"mark":{"type":"line","strokeWidth":1.5},"encoding":{"color":{"field":"s","type":"nominal","legend":null,"scale":{"domain":["upper","lower","basis"],"range":["#9c972e","#9c972e","#4a9fd8"]}}}},
{"data":{"name":"levels"},"transform":[{"filter":"datum.kind=='last'"}],"mark":{"type":"rule","color":"#f23645","strokeWidth":1,"strokeDash":[1,2]},"encoding":{"x2":{"field":"t2"}}},
{"data":{"name":"zones"},"mark":{"type":"rect","fill":"#787b86","fillOpacity":0.2,"stroke":"#f23645","strokeWidth":1.2},"encoding":{"x2":{"field":"t2"},"y2":{"field":"p2"}}},
{"data":{"name":"levels"},"transform":[{"filter":"datum.kind=='mid'"}],"mark":{"type":"rule","color":"#7b2a9c","strokeWidth":1,"strokeDash":[5,5]},"encoding":{"x2":{"field":"t2"}}},
{"data":{"name":"levels"},"transform":[{"filter":"datum.kind=='mark'"}],"mark":{"type":"rule","color":"#000000","strokeWidth":2},"encoding":{"x2":{"field":"t2"}}},
{"data":{"name":"tags"},"mark":{"type":"rect","cornerRadius":2},"encoding":{"x2":{"field":"t2"},"y2":{"field":"p2"},"color":{"field":"kind","type":"nominal","legend":null,"scale":{"domain":["mark","price","symbol"],"range":["#000000","#f23645","#f23645"]}}}},
{"data":{"values":[{"t":"2027-04-01","t2":"2027-06-19","p":12.745,"p2":12.284}]},"mark":{"type":"rect","fill":"#ffffff","stroke":"#f0f3fa","cornerRadius":4},"encoding":{"x2":{"field":"t2"},"y2":{"field":"p2"}}},
{"data":{"name":"notes"},"mark":{"type":"text","align":"left","baseline":"middle","fontSize":12},"encoding":{"text":{"field":"label"},"color":{"field":"tone","type":"nominal","legend":null,"scale":{"domain":["ink","down","white","pale"],"range":["#131722","#f23645","#ffffff","#fcd5d9"]}}}},
{"data":{"values":[{"t":"2025-12-14","p":-3.05}]},"mark":{"type":"point","shape":"circle","size":340,"filled":false,"color":"#9c27b0","strokeWidth":1.6}},
{"data":{"values":[{"t":"2025-12-14","p":-3.05}]},"mark":{"type":"point","filled":true,"size":100,"color":"#9c27b0","opacity":1,"shape":"M0.3 -1 L-0.7 0.15 H-0.05 L-0.3 1 L0.7 -0.15 H0.05 Z"}},
{"data":{"values":[{"t":"2022-06-02","p":-4.31}]},"mark":{"type":"point","filled":true,"size":841,"color":"#d9d9d9","opacity":1,"shape":"M-1.01 -0.52 H-0.18 V0.52 H-0.6 V-0.22 H-1.01 Z M-0.07 -0.36 a0.16 0.16 0 1 0 0.32 0 a0.16 0.16 0 1 0 -0.32 0 Z M0.51 -0.52 H1.01 L0.55 0.52 H-0.02 Z"}},
{"data":{"values":[{"t":"2022-07-01","p":-4.33,"label":"TradingView"}]},"mark":{"type":"text","align":"left","baseline":"middle","font":"Inter","fontSize":20,"fontWeight":600,"color":"#d9d9d9"},"encoding":{"text":{"field":"label"}}}
]
}
